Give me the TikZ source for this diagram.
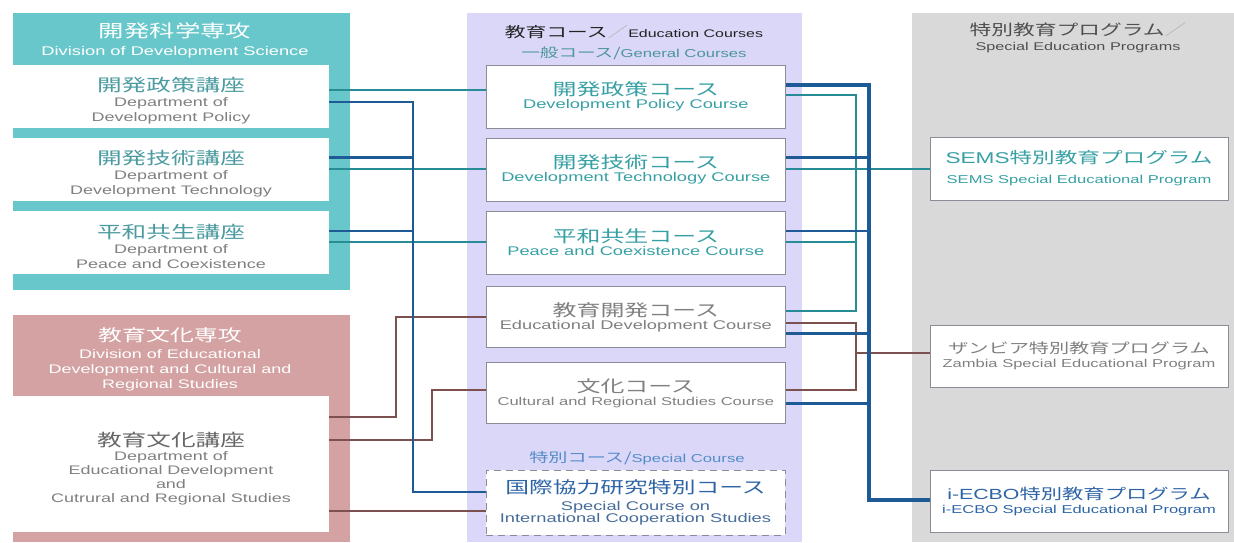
\documentclass[tikz,border=0pt]{standalone}
\usepackage{fontspec}
\setmainfont{Liberation Sans}[FakeStretch=1.45]
\newfontfamily\jp{Noto Sans CJK JP}[FakeStretch=1.45]
\usepackage{tikz}
\usetikzlibrary{positioning,calc}
\definecolor{scipanel}{RGB}{104,199,202}
\definecolor{edupanel}{RGB}{212,162,162}
\definecolor{coursepanel}{RGB}{218,215,248}
\definecolor{progpanel}{RGB}{217,217,217}
\definecolor{depttext}{RGB}{75,155,160}
\definecolor{greytext}{RGB}{128,128,128}
\definecolor{darktext}{RGB}{35,35,35}
\definecolor{tealtext}{RGB}{55,160,165}
\definecolor{bluetext}{RGB}{45,100,165}
\definecolor{speclabel}{RGB}{85,140,200}
\definecolor{tealline}{RGB}{40,140,150}
\definecolor{blueline}{RGB}{30,90,150}
\definecolor{brownline}{RGB}{125,80,80}
\definecolor{boxline}{RGB}{140,140,150}

\begin{document}
\begin{tikzpicture}[x=1pt, y=-1pt,
  node distance=10pt,
  panel/.style={anchor=north west, inner sep=0pt, outer sep=0pt},
  head/.style={inner sep=0pt, align=center, font=\fontsize{12.4}{15}\selectfont},
  dept/.style={fill=white, minimum width=316pt, minimum height=63pt, inner sep=0pt, outer sep=0pt, align=center, text=greytext, font=\fontsize{12.4}{15}\selectfont},
  course/.style={draw=boxline, line width=0.7pt, fill=white, minimum width=299pt, minimum height=63pt, inner sep=0pt, align=center, font=\fontsize{12.6}{13}\selectfont},
  prog/.style={draw=boxline, line width=0.7pt, fill=white, minimum width=298pt, minimum height=62pt, inner sep=0pt, align=center, font=\fontsize{11.4}{14}\selectfont},
  tl/.style={tealline, line width=2pt},
  bl/.style={blueline, line width=2.6pt},
  br/.style={brownline, line width=1.8pt}]
\useasboundingbox (0,0) rectangle (1234,542);
\node[panel, fill=scipanel, minimum width=337pt, minimum height=277pt] (scidiv) at (13,13) {};
\node[panel, fill=edupanel, minimum width=337pt, minimum height=227pt] (edudiv) at (13,315) {};
\node[panel, fill=coursepanel, minimum width=335pt, minimum height=529pt] (coursebg) at (467,13) {};
\node[panel, fill=progpanel, minimum width=322pt, minimum height=529pt] (progbg) at (912,13) {};

\node[head, text=white, font=\fontsize{12.6}{18}\selectfont] (scihead) at (175,40) {{\jp\fontsize{17.5}{19}\selectfont 開発科学専攻}\\Division of Development Science};
\node[head, text=white] (eduhead) at (170,359) {{\jp\fontsize{16.5}{18}\selectfont 教育文化専攻}\\[2pt]Division of Educational\\Development and Cultural and\\Regional Studies};
\node[head, text=darktext, font=\fontsize{11}{20}\selectfont] (coursehead) at (634,43) {{\jp\fontsize{14.3}{16}\selectfont 教育コース{\color{greytext!60}／}}Education Courses\\{\color{tealtext!70!gray}{\jp\fontsize{12.8}{15}\selectfont 一般コース/}\fontsize{11.5}{13}\selectfont General Courses}};
\node[head, text=darktext!80, font=\fontsize{11.2}{15}\selectfont] (proghead) at (1078,38) {{\jp\fontsize{15}{16}\selectfont 特別教育プログラム{\color{greytext!60}／}}\\Special Education Programs};
\node[head, text=speclabel] (speclabel) at (637,458) {{\jp\fontsize{13.2}{15}\selectfont 特別コース/}\fontsize{11.5}{13}\selectfont Special Course};

\node[dept] (dpol) at (171,96.5) {\rule{0pt}{23pt}{\jp\fontsize{17}{18}\selectfont\color{depttext}開発政策講座}\\Department of\\Development Policy};
\node[dept, below=of dpol] (dtech) {\rule{0pt}{23pt}{\jp\fontsize{17}{18}\selectfont\color{depttext}開発技術講座}\\Department of\\Development Technology};
\node[dept, below=of dtech] (dpeace) {\rule{0pt}{23pt}{\jp\fontsize{17}{18}\selectfont\color{depttext}平和共生講座}\\Department of\\Peace and Coexistence};
\node[dept, minimum height=136pt, font=\fontsize{12.4}{14}\selectfont] (dedu) at (171,464) {\rule{0pt}{23pt}{\jp\fontsize{17}{18}\selectfont\color{greytext!80!black}教育文化講座}\\Department of\\Educational Development\\and\\Cutrural and Regional Studies};

\node[course, right=157pt of dpol, text=tealtext] (cpol) {{\jp\fontsize{16.5}{18}\selectfont 開発政策コース}\\Development Policy Course};
\node[course, right=157pt of dtech, text=tealtext] (ctech) {{\jp\fontsize{16.5}{18}\selectfont 開発技術コース}\\Development Technology Course};
\node[course, right=157pt of dpeace, text=tealtext] (cpeace) {{\jp\fontsize{16.5}{18}\selectfont 平和共生コース}\\Peace and Coexistence Course};
\node[course, below=12pt of cpeace, minimum height=61pt, text=greytext] (cedu) {{\jp\fontsize{16.5}{18}\selectfont 教育開発コース}\\Educational Development Course};
\node[course, below=14pt of cedu, minimum height=61pt, text=greytext] (ccult) {{\jp\fontsize{16.5}{18}\selectfont 文化コース}\\\fontsize{11.4}{13}\selectfont Cultural and Regional Studies Course};
\node[course, dash pattern=on 7pt off 5pt, minimum height=65pt, text=bluetext!70!gray, font=\fontsize{12.6}{12.5}\selectfont] (cspec) at (635.5,502.5) {{\jp\fontsize{16.4}{18}\selectfont\color{bluetext}国際協力研究特別コース}\\[4pt]Special Course on\\International Cooperation Studies};

\node[prog, minimum height=63pt, text=tealtext] (sems) at (1079,168.5) {{\fontsize{15.6}{17}\selectfont SEMS\jp 特別教育プログラム}\\[6pt]SEMS Special Educational Program};
\node[prog, text=greytext] (zambia) at (1079,356) {{\jp\fontsize{13.9}{16}\selectfont ザンビア特別教育プログラム}\\Zambia Special Educational Program};
\node[prog, text=bluetext] (iecbo) at (1079,501) {{\fontsize{14.7}{16}\selectfont i-ECBO\jp 特別教育プログラム}\\i-ECBO Special Educational Program};

\coordinate (ltrunk) at (413,0);
\coordinate (rtrunk) at (869,0);
\coordinate (bus) at (856,0);

\draw[tl] ($(dpol.east)+(0,-6.5)$) coordinate (a1) -- (cpol.west |- a1);
\draw[tl] ($(dtech.east)+(0,-1)$) coordinate (a2) -- (ctech.west |- a2);
\draw[tl] ($(dpeace.east)+(0,-0.5)$) coordinate (a3) -- (cpeace.west |- a3);
\draw[br] ($(dedu.east)+(0,-47)$) -| ($(cedu.west)+(-90,0)$) -- (cedu.west);
\draw[br] ($(dedu.east)+(0,-24)$) -| ($(ccult.west)+(-54,-3)$) -- ($(ccult.west)+(0,-3)$);
\draw[br] ($(dedu.east)+(0,47)$) coordinate (a4) -- (cspec.west |- a4);
\draw[bl] ($(dpol.east)+(0,5.5)$) -| ($(ltrunk |- cspec.west)+(0,-10.5)$) -- ($(cspec.west)+(0,-10.5)$);
\draw[bl] ($(dtech.east)+(0,-12)$) coordinate (b2) -- (ltrunk |- b2);
\draw[bl] ($(dpeace.east)+(0,-11.5)$) coordinate (b3) -- (ltrunk |- b3);

\draw[tl] ($(cpol.east)+(0,-1.5)$) -| ($(bus |- cedu.east)+(0,-6)$) -- ($(cedu.east)+(0,-6)$);
\draw[tl] ($(cpeace.east)+(0,-0.5)$) coordinate (c3) -- (bus |- c3);
\draw[tl] ($(ctech.east)+(0,-1)$) coordinate (c2) -- (sems.west |- c2);
\draw[br] ($(cedu.east)+(0,6)$) -| ($(bus |- ccult.east)+(0,-3)$) -- ($(ccult.east)+(0,-3)$);
\draw[br] ($(zambia.west)+(0,-3)$) coordinate (z1) -- (bus |- z1);
\draw[bl] ($(ctech.east)+(0,-12)$) coordinate (c5) -- (rtrunk |- c5);
\draw[bl] ($(cpeace.east)+(0,-11.5)$) coordinate (c6) -- (rtrunk |- c6);
\draw[bl] ($(cedu.east)+(0,16)$) coordinate (c7) -- (rtrunk |- c7);
\draw[bl] ($(ccult.east)+(0,10.5)$) coordinate (c8) -- (rtrunk |- c8);
\draw[bl, line width=3.2pt] ($(cpol.east)+(0,-11.5)$) -| ($(rtrunk |- iecbo.west)+(0,-1)$) -- ($(iecbo.west)+(0,-1)$);
\end{tikzpicture}
\end{document}
